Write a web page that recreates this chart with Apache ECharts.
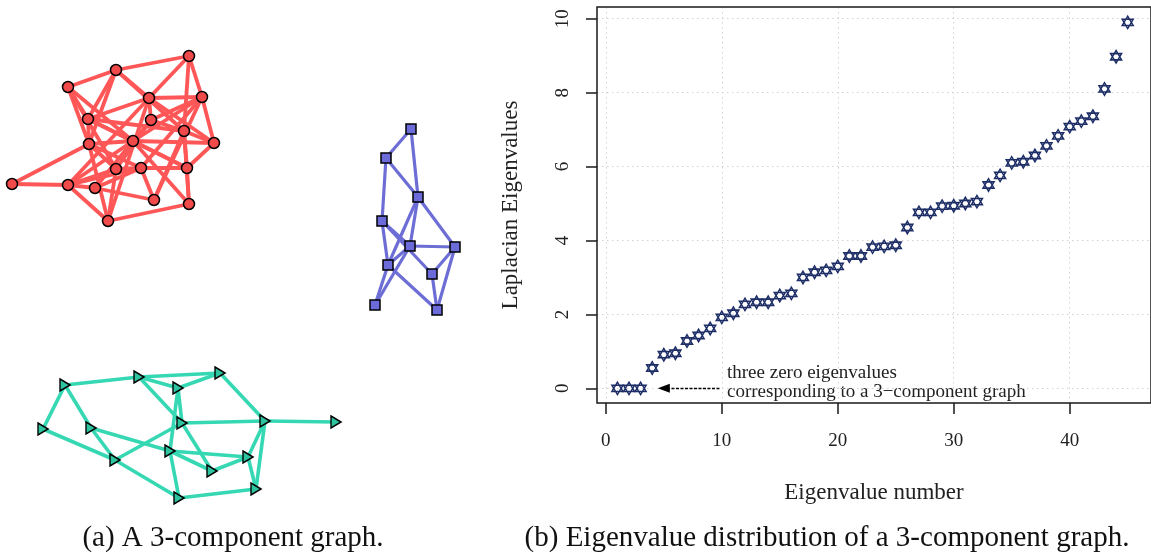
<!DOCTYPE html>
<html><head><meta charset="utf-8">
<script src="https://cdn.jsdelivr.net/npm/echarts@6/dist/echarts.min.js"></script>
<style>html,body{margin:0;padding:0;background:#fff}#c{width:1151px;height:552px}</style>
</head><body><div id="c"></div>
<script>
// ---- Panel (b): eigenvalues ----
const eigIndex = [1,2,3,4,5,6,7,8,9,10,11,12,13,14,15,16,17,18,19,20,21,22,23,24,25,26,27,28,29,30,31,32,33,34,35,36,37,38,39,40,41,42,43,44,45];
const eigValues = [0,0,0,0.55,0.91,0.95,1.28,1.43,1.62,1.92,2.03,2.27,2.33,2.33,2.51,2.57,3.0,3.14,3.19,3.3,3.58,3.58,3.82,3.84,3.87,4.35,4.76,4.76,4.93,4.94,5.0,5.05,5.5,5.76,6.1,6.13,6.3,6.56,6.83,7.08,7.23,7.36,8.1,8.97,9.9];
const xTicks = [0,10,20,30,40];
const yTicks = [0,2,4,6,8,10];
const xTitle = 'Eigenvalue number';
const yTitle = 'Laplacian Eigenvalues';
const noteLines = ['three zero eigenvalues','corresponding to a 3\u2212component graph'];
const arrowFrom = [9.8, 0];
const arrowTo = [5.0, 0];
const captionA = '(a) A 3-component graph.';
const captionB = '(b) Eigenvalue distribution of a 3-component graph.';

// ---- Panel (a): network layout (layout units) ----
const redNodes = [[189,56],[116,70],[68,87],[149,98],[202,97],[88,119],[151,120],[184,131],[89,144],[133,141],[214,143],[116,169],[141,168],[187,168],[12,184],[68,185],[95,188],[154,200],[189,204],[108,221]];
const redEdges = [[0,1],[0,3],[0,4],[0,7],[1,2],[1,5],[1,3],[1,7],[1,8],[2,5],[2,8],[2,9],[2,11],[3,4],[3,6],[3,5],[3,10],[3,19],[3,15],[4,10],[4,6],[4,9],[4,12],[5,8],[5,9],[5,7],[5,13],[6,9],[6,7],[8,9],[8,14],[8,19],[8,12],[8,11],[9,10],[9,15],[9,16],[9,13],[9,18],[10,7],[10,13],[11,12],[11,15],[11,6],[12,13],[12,15],[12,17],[13,7],[13,18],[14,15],[15,16],[15,19],[16,17],[16,12],[17,7],[17,4],[18,19],[18,7],[19,11]];
const blueNodes = [[411,129],[386,158],[418,197],[382,221],[410,246],[455,247],[388,265],[432,274],[375,305],[437,310]];
const blueEdges = [[0,1],[0,2],[1,2],[1,3],[2,4],[2,5],[2,6],[3,4],[3,7],[3,6],[4,5],[4,6],[4,8],[5,7],[5,9],[7,9],[6,9],[6,8]];
const greenNodes = [[65,385],[139,377],[220,373],[178,388],[43,429],[91,428],[182,423],[265,421],[336,422],[170,451],[248,457],[115,460],[212,471],[256,489],[179,498]];
const greenEdges = [[0,1],[0,4],[0,5],[4,11],[5,11],[5,9],[1,2],[1,3],[2,3],[1,6],[3,9],[3,6],[2,7],[6,7],[7,8],[7,10],[7,13],[10,13],[6,12],[6,11],[9,10],[9,12],[12,10],[9,14],[11,14],[14,13]];

const hexagram = 'path://M50,0L93.3,75L6.7,75Z M50,100L93.3,25L6.7,25Z';
const triRight = 'path://M0,0L10,6L0,12Z';
const serif = '"Liberation Serif", "Times New Roman", serif';

function graphSeries(nodes, edges, symbol, size, fill, edgeColor, edgeWidth) {
  return {
    type: 'graph', coordinateSystem: 'cartesian2d', xAxisIndex: 1, yAxisIndex: 1,
    layout: 'none', roam: false, silent: true, z: 3,
    symbol: symbol, symbolSize: size,
    itemStyle: { color: fill, borderColor: '#000', borderWidth: 1.5, opacity: 1 },
    lineStyle: { color: edgeColor, width: edgeWidth, opacity: 1, curveness: 0 },
    label: { show: false },
    data: nodes.map((p, i) => ({ name: String(i), value: p })),
    links: edges.map(e => ({ source: e[0], target: e[1] }))
  };
}

const chart = echarts.init(document.getElementById('c'), null, { renderer: 'canvas' });
chart.setOption({
  animation: false,
  backgroundColor: '#fff',
  grid: [
    { left: 597, top: 7, width: 557, height: 396, show: true, borderColor: '#1a1a1a', borderWidth: 1.5, backgroundColor: 'transparent', z: 1 },
    { left: 0, top: 0, width: 470, height: 552, show: false }
  ],
  xAxis: [
    { type: 'value', gridIndex: 0, min: -0.76, max: 47.01, position: 'bottom',
      axisLine: { show: false, onZero: false },
      axisTick: { show: true, inside: false, length: 11, customValues: xTicks, lineStyle: { color: '#1a1a1a', width: 1.5 } },
      axisLabel: { show: true, customValues: xTicks, margin: 29, fontFamily: serif, fontSize: 19, color: '#222' },
      splitLine: { show: true, lineStyle: { color: '#d2d2d2', type: [1.5, 3.5], width: 1 } },
      name: xTitle, nameLocation: 'middle', nameGap: 78, nameTextStyle: { fontFamily: serif, fontSize: 23, color: '#222' }
    },
    { type: 'value', gridIndex: 1, min: 0, max: 470, show: false }
  ],
  yAxis: [
    { type: 'value', gridIndex: 0, min: -0.397, max: 10.317, position: 'left',
      axisLine: { show: false, onZero: false },
      axisTick: { show: true, inside: false, length: 11, customValues: yTicks, lineStyle: { color: '#1a1a1a', width: 1.5 } },
      axisLabel: { show: true, customValues: yTicks, rotate: 90, margin: 24, fontFamily: serif, fontSize: 19, color: '#222' },
      splitLine: { show: true, lineStyle: { color: '#d2d2d2', type: [1.5, 3.5], width: 1 } },
      name: yTitle, nameLocation: 'middle', nameGap: 75, nameRotate: 90, nameTextStyle: { fontFamily: serif, fontSize: 23, color: '#222' }
    },
    { type: 'value', gridIndex: 1, min: 0, max: 552, inverse: true, show: false }
  ],
  series: [
    {
      type: 'scatter', xAxisIndex: 0, yAxisIndex: 0, z: 4,
      symbol: hexagram, symbolSize: [11, 12.5],
      itemStyle: { color: 'rgba(0,0,0,0)', borderColor: '#1d2d66', borderWidth: 1.5, opacity: 1 },
      data: eigIndex.map((x, i) => [x, eigValues[i]]),
      markLine: {
        silent: true, symbol: ['none', 'triangle'], symbolSize: [9, 12],
        label: { show: false },
        lineStyle: { color: '#000', width: 1.4, type: [3, 1.5] },
        data: [[{ coord: arrowFrom }, { coord: arrowTo }]]
      }
    },
    graphSeries(redNodes, redEdges, 'circle', 11, '#f04a4a', '#ff5757', 3.8),
    graphSeries(blueNodes, blueEdges, 'rect', 10, '#6b6bd9', '#6d6dd6', 3.2),
    graphSeries(greenNodes, greenEdges, triRight, [10, 12], '#2ec4a0', '#35d8b3', 3.6)
  ],
  graphic: [
    { type: 'text', x: 727, y: 373, style: { text: noteLines[0], font: '19px ' + serif, fill: '#222', align: 'left', verticalAlign: 'middle' } },
    { type: 'text', x: 727, y: 392, style: { text: noteLines[1], font: '19px ' + serif, fill: '#222', align: 'left', verticalAlign: 'middle' } },
    { type: 'text', x: 233, y: 538, style: { text: captionA, font: '29px ' + serif, fill: '#111', align: 'center', verticalAlign: 'middle' } },
    { type: 'text', x: 827, y: 538, style: { text: captionB, font: '29px ' + serif, fill: '#111', align: 'center', verticalAlign: 'middle' } }
  ]
});
</script>
</body></html>
